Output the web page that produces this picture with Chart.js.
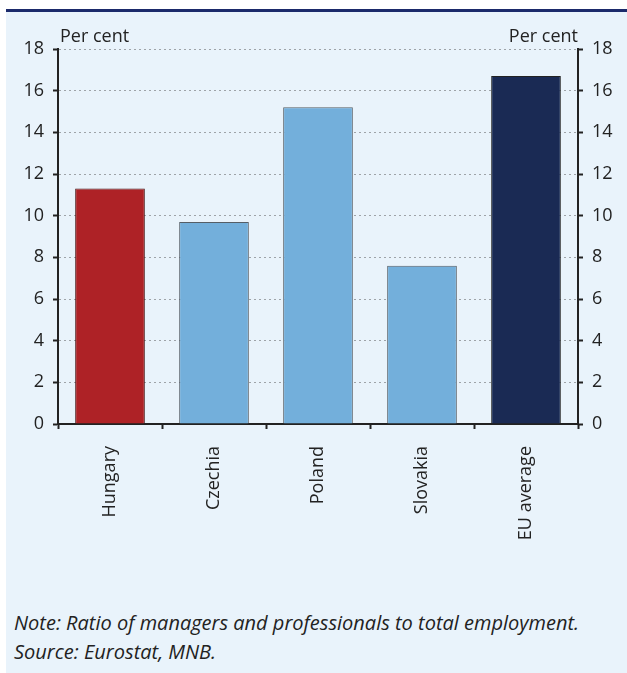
<!DOCTYPE html>
<html>
<head>
<meta charset="utf-8">
<script src="https://cdn.jsdelivr.net/npm/chart.js@4.4.1/dist/chart.umd.min.js"></script>
<style>
  html, body { margin: 0; padding: 0; background: #fff; }
  body { width: 627px; height: 673px; position: relative; overflow: hidden; font-family: "Open Sans", Lato, sans-serif; }
  #panel { position: absolute; left: 6px; top: 9px; right: 0; bottom: 0; background: #e9f3fb; border-top: 3px solid #1b2a6b; }
  #wrap { position: absolute; left: 0; top: 0; width: 627px; height: 590px; }
  .note { position: absolute; left: 14px; font-style: italic; font-size: 20px; color: #222; white-space: nowrap; }
</style>
</head>
<body>
<div id="panel"></div>
<div id="wrap"><canvas id="chart"></canvas></div>
<div class="note" style="top:609px">Note: Ratio of managers and professionals to total employment.</div>
<div class="note" style="top:638px">Source: Eurostat, MNB.</div>
<script>
document.addEventListener('DOMContentLoaded', () => {
    // --- Data ---
    const categories = ['Hungary', 'Czechia', 'Poland', 'Slovakia', 'EU average'];
    const shareValues = [11.3, 9.7, 15.2, 7.6, 16.7];
    const barColors = ['#ae2226', '#73afdb', '#73afdb', '#73afdb', '#1a2a54'];
    const barBorders = ['#4a1414', '#555e66', '#555e66', '#555e66', '#222'];
    const yTicks = [0, 2, 4, 6, 8, 10, 12, 14, 16, 18];
    const unitLabel = 'Per cent';

    const fontFamily = '"Open Sans", Lato, sans-serif';

    // draws the "Per cent" caption above each y axis
    const unitLabels = {
        id: 'unitLabels',
        afterDraw(chart) {
            const { ctx, chartArea } = chart;
            ctx.save();
            ctx.font = '18px ' + fontFamily;
            ctx.fillStyle = '#222';
            ctx.textBaseline = 'alphabetic';
            ctx.textAlign = 'left';
            ctx.fillText(unitLabel, chartArea.left + 2, chartArea.top - 7);
            ctx.textAlign = 'right';
            ctx.fillText(unitLabel, chartArea.right, chartArea.top - 7);
            ctx.restore();
        }
    };

    const tickCallback = (value) => yTicks.includes(value) ? value : '';

    new Chart(document.getElementById('chart'), {
        type: 'bar',
        data: {
            labels: categories,
            datasets: [{
                data: shareValues,
                backgroundColor: barColors,
                borderColor: barBorders,
                borderWidth: 1,
                barPercentage: 0.67,
                categoryPercentage: 1
            }]
        },
        options: {
            responsive: true,
            maintainAspectRatio: false,
            animation: false,
            layout: { padding: { top: 49, left: 0, right: 0, bottom: 0 } },
            plugins: {
                legend: { display: false },
                tooltip: { enabled: false }
            },
            scales: {
                x: {
                    offset: true,
                    grid: {
                        offset: true,
                        drawOnChartArea: false,
                        drawTicks: true,
                        tickLength: 5,
                        tickColor: '#222',
                        tickWidth: 2
                    },
                    border: { color: '#222', width: 2 },
                    ticks: {
                        minRotation: 90,
                        maxRotation: 90,
                        padding: 17,
                        color: '#222',
                        font: { family: fontFamily, size: 18 }
                    },
                    afterFit: (scale) => { scale.height = 590 - 424; }
                },
                y: {
                    position: 'left',
                    min: 0,
                    max: 18,
                    ticks: {
                        stepSize: 2,
                        padding: 9,
                        color: '#222',
                        callback: tickCallback,
                        font: { family: fontFamily, size: 18 }
                    },
                    grid: {
                        color: (c) => c.tick && c.tick.value === 0 ? 'rgba(0,0,0,0)' : '#9ea3a8',
                        lineWidth: 1,
                        tickLength: 5,
                        tickColor: '#222',
                        tickWidth: 2,
                        tickBorderDash: [],
                        drawTicks: true
                    },
                    border: { color: '#222', width: 2, dash: [2, 3] },
                    afterFit: (scale) => { scale.width = 58; }
                },
                y2: {
                    position: 'right',
                    min: 0,
                    max: 18,
                    ticks: {
                        stepSize: 2,
                        padding: 9,
                        color: '#222',
                        callback: tickCallback,
                        font: { family: fontFamily, size: 18 }
                    },
                    grid: {
                        drawOnChartArea: false,
                        tickLength: 5,
                        tickColor: '#222',
                        tickWidth: 2
                    },
                    border: { color: '#222', width: 2 },
                    afterFit: (scale) => { scale.width = 627 - 578; }
                }
            }
        },
        plugins: [unitLabels]
    });
});
</script>
</body>
</html>
